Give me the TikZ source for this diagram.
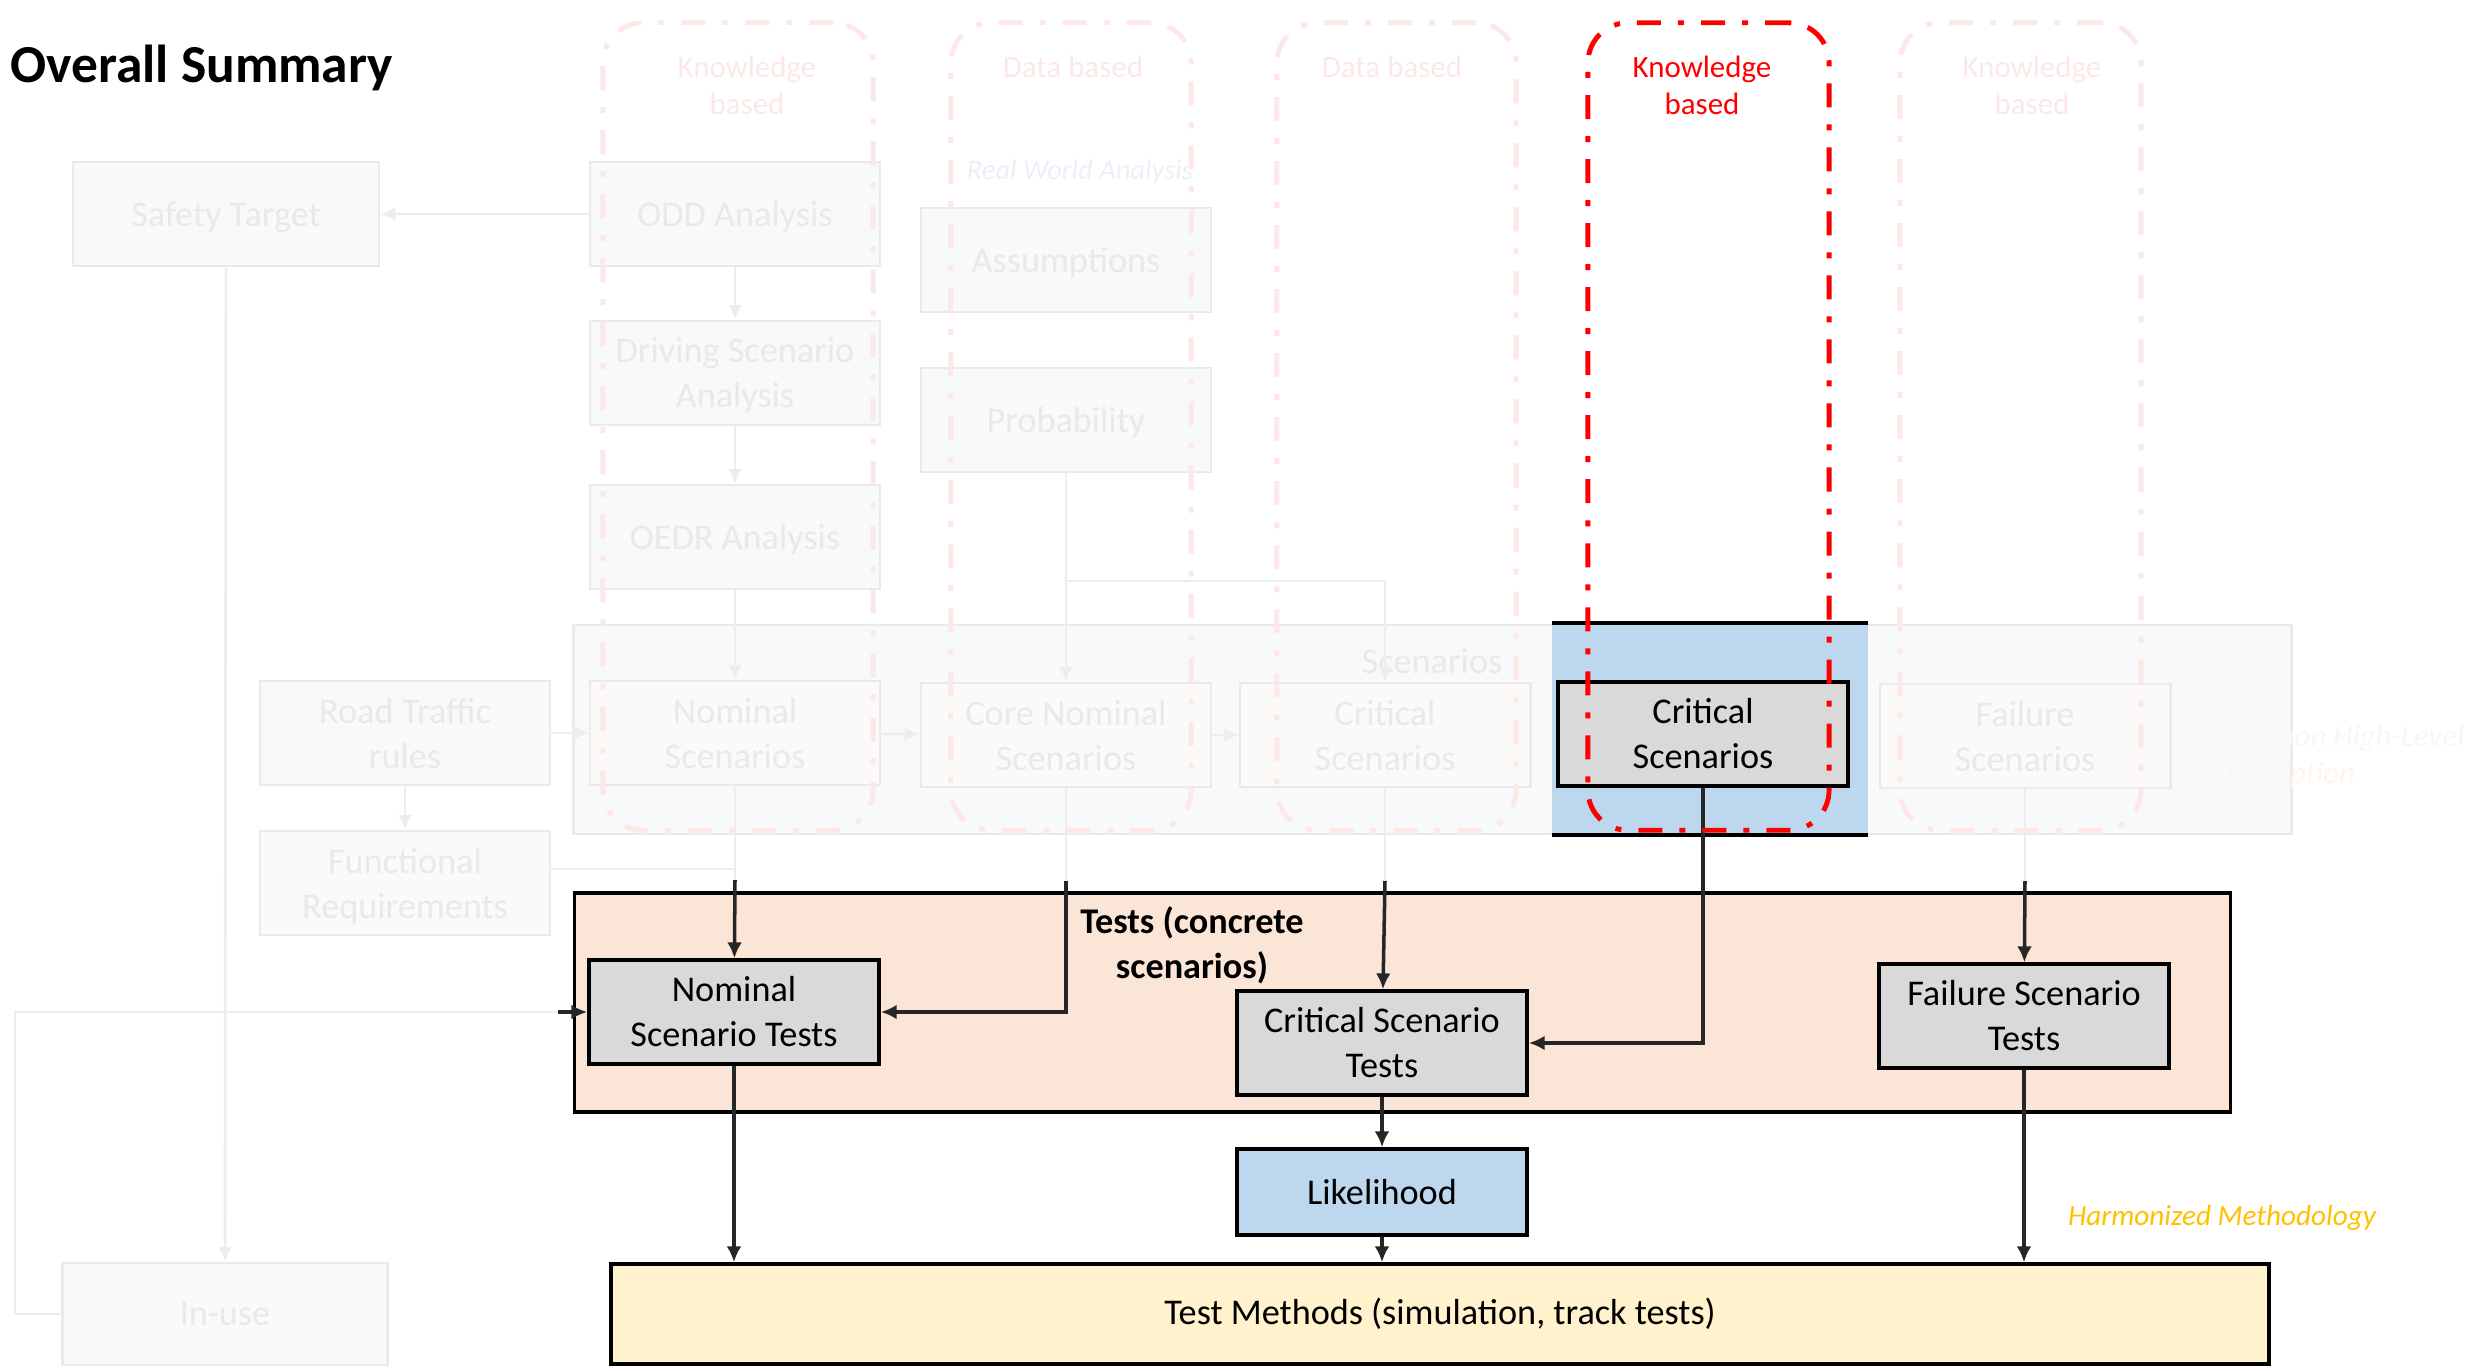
\documentclass[tikz,border=0pt]{standalone}
\usepackage{fontspec}
\setmainfont{Carlito}
\usetikzlibrary{arrows.meta,backgrounds,positioning,fit}
\definecolor{fadeline}{RGB}{237,237,237}
\definecolor{fadeborder}{RGB}{234,234,234}
\definecolor{fadetext}{RGB}{233,233,233}
\definecolor{fadecool}{RGB}{248,249,251}
\definecolor{fadewarm}{RGB}{251,250,249}
\definecolor{fadered}{RGB}{253,231,231}
\definecolor{fadeblue}{RGB}{236,239,248}
\definecolor{fadeorange}{RGB}{253,246,240}
\definecolor{bandfill}{RGB}{248,249,251}
\definecolor{testfill}{RGB}{251,229,214}
\definecolor{testgrey}{RGB}{217,217,217}
\definecolor{likelyblue}{RGB}{189,215,238}
\definecolor{methodfill}{RGB}{255,242,204}
\definecolor{harmonized}{RGB}{255,192,0}
\newcommand{\boxfont}{\fontsize{10.3}{12.8}\selectfont}
\newcommand{\smallfont}{\fontsize{8.8}{10.5}\selectfont}
\tikzset{plain box/.style={rectangle, line width=0.8pt, minimum width=2.9cm,
    minimum height=1.04cm, align=center, font=\boxfont}}
\tikzset{faded box/.style={plain box, draw=fadeborder, fill=fadecool, text=fadetext, text depth=0pt}}
\tikzset{faded warm box/.style={faded box, fill=fadewarm}}
\tikzset{test box/.style={plain box, draw=black, fill=testgrey, line width=1pt}}
\tikzset{faded edge/.style={draw=fadeline, line width=0.8pt, -{Latex[length=4.2pt,width=4pt]}}}
\tikzset{faded line/.style={draw=fadeline, line width=0.8pt}}
\tikzset{test edge/.style={draw=black!85, line width=1pt, -{Latex[length=4.5pt,width=4.2pt]}}}
\tikzset{column frame/.style={rectangle, draw=#1, line width=1.4pt, rounded corners=0.4cm,
    dash pattern=on 0.24cm off 0.17cm on 0.06cm off 0.17cm, minimum height=8.07cm}}
\tikzset{column label/.style={text=#1, align=center, font=\smallfont}}
\tikzset{comment/.style={font=\fontsize{8.1}{10}\selectfont\itshape, inner sep=0pt}}

\begin{document}
\begin{tikzpicture}
      [x=0.01cm, y=-0.01cm]
      \useasboundingbox (0,0) rectangle (2468,1365);

      \node [anchor=base west, inner sep=0pt, font=\fontsize{15.2}{18}\selectfont\bfseries]
        (title) at (10,82) {Overall Summary};

      % analysis
      \node [faded box, minimum width=3.06cm] (safety)   at ( 226, 214) {Safety Target};
      \node [faded box]                       (odd)      at ( 735, 214) {ODD Analysis};
      \node [faded box]                       (dsa)      at ( 735, 373) {Driving Scenario\\Analysis};
      \node [faded box]                       (oedr)     at ( 735, 537) {OEDR Analysis};
      \node [faded box]                       (assum)    at (1066, 260) {Assumptions};
      \node [faded box]                       (prob)     at (1066, 420) {Probability};
      \node [comment, text=fadeblue]          (rwa)      at (1080, 172) {Real World Analysis};

      % scenarios
      \begin{pgfonlayer}{background}
        \node [draw=fadeborder, fill=bandfill, line width=0.8pt, minimum width=17.17cm,
          minimum height=2.09cm] (band) at (1432.5,729.5) {};
        \node [fill=likelyblue, minimum width=3.15cm, minimum height=2.1cm] (hl) at (1710,729) {};
        \draw [line width=1pt] (hl.north west) -- (hl.north east);
        \draw [line width=1pt] (hl.south west) -- (hl.south east);
      \end{pgfonlayer}
      \node [text=fadetext, font=\boxfont]    (scen)     at (1432, 661) {Scenarios};
      \node [faded box]                       (road)     at ( 405, 733) {Road Traffic\\rules};
      \node [faded warm box]                  (fr)       at ( 405, 883) {Functional\\Requirements};
      \node [faded warm box]                  (nomsc)    at ( 735, 733) {Nominal\\Scenarios};
      \node [faded warm box]                  (corenom)  at (1066, 735) {Core Nominal\\Scenarios};
      \node [faded warm box]                  (critsc0)  at (1385, 735) {Critical\\Scenarios};
      \node [test box]                        (critsc)   at (1703, 734) {Critical\\Scenarios};
      \node [faded warm box]                  (failsc)   at (2025, 736) {Failure\\Scenarios};
      \node [comment, text=fadeorange, anchor=west, align=left, font=\smallfont\itshape]
        (chld) at (2213,757) {Common High-Level\\Description};

      % tests
      \node [draw=black, fill=testfill, line width=1.1pt, minimum width=16.55cm,
        minimum height=2.19cm] (tests) at (1402.5,1002.5) {};
      \node [align=center, font=\boxfont\bfseries] (testlabel) at (1192, 945) {Tests (concrete\\scenarios)};
      \node [test box]                        (nomtest)  at ( 734,1012) {Nominal\\Scenario Tests};
      \node [test box]                        (crittest) at (1382,1043) {Critical Scenario\\Tests};
      \node [test box]                        (failtest) at (2024,1016) {Failure Scenario\\Tests};
      \node [test box, fill=likelyblue, minimum height=0.86cm] (likely) at (1382,1192) {Likelihood};
      \node [test box, fill=methodfill, minimum width=16.57cm, minimum height=1cm]
        (tm) at (1440,1314) {Test Methods (simulation, track tests)};
      \node [comment, text=harmonized, font=\fontsize{8.3}{10}\selectfont\itshape]
        (harm) at (2222,1218) {Harmonized Methodology};
      \node [faded warm box, minimum width=3.25cm, minimum height=1.02cm] (inuse) at (225,1314) {In-use};

      \coordinate (split)    at (1066, 581);
      \coordinate (frjoin)   at ( 735, 869);
      \coordinate (nomdrop)  at ( 735, 880);
      \coordinate (coredrop) at (1066, 881);
      \coordinate (critdrop) at (1385, 881);
      \coordinate (faildrop) at (2025, 881);
      \coordinate (loopin)   at ( 558,1012);

      \draw [faded edge]  (odd)     to (safety);
      \draw [faded edge]  (odd)     to (dsa);
      \draw [faded edge]  (dsa)     to (oedr);
      \draw [faded edge]  (oedr)    to (nomsc);
      \draw [faded edge]  (prob)    to (corenom);
      \draw [faded edge]  (split)   -| (critsc0);
      \draw [faded edge]  (road)    to (nomsc);
      \draw [faded edge]  (road)    to (fr);
      \draw [faded edge]  (nomsc)   to (corenom);
      \draw [faded edge]  (corenom) to (critsc0);
      \draw [faded edge]  (safety)  to (inuse);
      \draw [faded line]  (fr.east |- frjoin) -- (frjoin);
      \draw [faded line]  (nomsc)   -- (nomdrop);
      \draw [faded line]  (corenom) -- (coredrop);
      \draw [faded line]  (critsc0) -- (critdrop);
      \draw [faded line]  (failsc)  -- (faildrop);
      \draw [faded line]  (inuse.west) -- ++(-46,0) |- (loopin);

      \draw [test edge]   (nomdrop)  to (nomtest);
      \draw [test edge]   (coredrop) |- (nomtest);
      \draw [test edge]   (critdrop) to (crittest);
      \draw [test edge]   (critsc)   |- (crittest);
      \draw [test edge]   (faildrop) to (failtest);
      \draw [test edge]   (loopin)   to (nomtest);
      \draw [test edge]   (crittest) to (likely);
      \draw [test edge]   (nomtest)  to (nomtest |- tm.north);
      \draw [test edge]   (likely)   to (likely |- tm.north);
      \draw [test edge]   (failtest) to (failtest |- tm.north);

      % knowledge / data columns
      \node [column frame=fadered, minimum width=2.70cm] (kb1) at ( 738,426.5) {};
      \node [column frame=fadered, minimum width=2.40cm] (db1) at (1071,426.5) {};
      \node [column frame=fadered, minimum width=2.39cm] (db2) at (1396.5,426.5) {};
      \node [column frame=red,     minimum width=2.41cm] (kb2) at (1708.5,426.5) {};
      \node [column frame=fadered, minimum width=2.41cm] (kb3) at (2020.5,426.5) {};
      \node [column label=fadered] (kb1label) at ( 747,85.5) {Knowledge\\based};
      \node [column label=fadered] (db1label) at (1073,67)   {Data based};
      \node [column label=fadered] (db2label) at (1392,67)   {Data based};
      \node [column label=red]     (kb2label) at (1702,85.5) {Knowledge\\based};
      \node [column label=fadered] (kb3label) at (2032,85.5) {Knowledge\\based};
    \end{tikzpicture}
\end{document}
